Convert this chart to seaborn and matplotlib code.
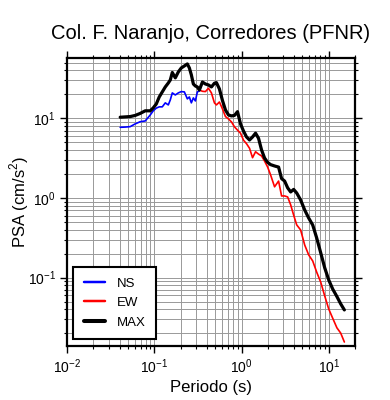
import numpy as np
import pandas as pd
import seaborn as sns
import matplotlib.pyplot as plt
from matplotlib.lines import Line2D

# periods (s) and spectral accelerations (cm/s^2)
periodo = [0.0407, 0.0464, 0.053, 0.0605, 0.069, 0.0788, 0.090, 0.0974, 0.1055, 0.1141,
           0.1236, 0.1338, 0.1449, 0.1527, 0.161, 0.1743, 0.1887, 0.2043, 0.2213, 0.2395,
           0.2525, 0.2662, 0.2807, 0.296, 0.312, 0.329, 0.3565, 0.3857, 0.4177, 0.452,
           0.4894, 0.516, 0.5585, 0.605, 0.655, 0.709, 0.7675, 0.831, 0.900, 0.974,
           1.055, 1.141, 1.236, 1.338, 1.449, 1.568, 1.698, 1.838, 1.99, 2.154,
           2.393, 2.66, 2.88, 3.12, 3.38, 3.66, 3.96, 4.29, 4.76, 5.30,
           5.89, 6.55, 7.28, 8.09, 8.99, 10.0, 11.1, 12.4, 13.7, 15.1]
ns = [7.7, 7.75, 7.85, 8.5, 9.05, 9.25, 11.0, 12.4, 13.4, 13.9,
      13.9, 15.6, 14.7, 17.0, 20.8, 19.6, 20.8, 21.6, 21.4, 17.5,
      18.5, 15.6, 18.0, 16.5, 21.4, 22.0, 28.5, 26.9, 26.2, 24.7,
      27.5, 28.0, 23.3, 16.7, 12.7, 11.0, 10.7, 10.85, 12.1, 8.5,
      6.9, 5.83, 5.34, 5.83, 6.5, 5.6, 4.0, 3.17, 2.8, 2.62,
      2.52, 2.44, 1.75, 1.63, 1.34, 1.19, 1.28, 1.155, 0.944, 0.707,
      0.56, 0.458, 0.314, 0.205, 0.133, 0.0935, 0.072, 0.058, 0.047, 0.0394]
ew = [10.3, 10.4, 10.5, 10.85, 11.5, 12.4, 12.4, 13.5, 15.1, 18.5,
      21.4, 24.7, 27.7, 30.2, 37.5, 32.1, 38.1, 42.8, 45.3, 48.0,
      42.8, 35.0, 26.9, 25.4, 24.7, 22.6, 21.8, 21.6, 23.8, 20.8,
      15.6, 14.7, 16.0, 13.1, 10.5, 9.8, 9.0, 7.8, 7.1, 6.5,
      5.3, 4.8, 4.2, 3.2, 3.8, 3.55, 3.37, 2.9, 2.45, 1.95,
      1.38, 1.63, 1.06, 1.06, 1.03, 0.82, 0.61, 0.46, 0.397, 0.257,
      0.193, 0.162, 0.117, 0.088, 0.059, 0.0404, 0.031, 0.0235, 0.0202, 0.0156]
componentes = ['NS', 'EW', 'MAX']
colores = {'NS': '#0000ff', 'EW': '#ff0000', 'MAX': '#000000'}
grosores = {'NS': 1.2, 'EW': 1.2, 'MAX': 2.3}

maximo = np.maximum(ns, ew)
df = pd.concat([
    pd.DataFrame({'Periodo': periodo, 'PSA': ns, 'comp': 'NS'}),
    pd.DataFrame({'Periodo': periodo, 'PSA': ew, 'comp': 'EW'}),
    pd.DataFrame({'Periodo': periodo, 'PSA': maximo, 'comp': 'MAX'}),
])

sns.set_style('ticks')
plt.rcParams['font.family'] = ['Liberation Sans', 'DejaVu Sans']
plt.rcParams['mathtext.fontset'] = 'custom'
plt.rcParams['mathtext.rm'] = 'Liberation Sans'
plt.rcParams['text.color'] = 'black'
plt.rcParams['axes.labelcolor'] = 'black'

fig = plt.figure(figsize=(3.9, 4.0), dpi=100)
ax = fig.add_axes([0.1718, 0.135, 0.7385, 0.72])

sns.lineplot(data=df, x='Periodo', y='PSA', hue='comp', size='comp',
             hue_order=componentes, palette=colores, sizes=grosores,
             legend=False, ax=ax)
ax.set_xscale('log')
ax.set_yscale('log')
ax.set_xlim(0.01, 20)
ax.set_ylim(0.0139, 57)

ax.grid(True, which='both', color='#999999', linewidth=0.7)
ax.set_axisbelow(True)
for s in ax.spines.values():
    s.set_linewidth(1.6)
    s.set_color('black')
ax.tick_params(which='both', direction='out', top=True, right=True, labelsize=10,
               colors='black', labelcolor='black')
ax.tick_params(which='major', length=5, width=1, pad=3)
ax.tick_params(which='minor', length=2.5, width=0.8)

ax.set_xlabel('Periodo (s)', fontsize=12, labelpad=3)
ax.set_ylabel('PSA (cm/s$^2$)', fontsize=12)
ax.yaxis.set_label_coords(-0.125, 0.5)
ax.set_title('Col. F. Naranjo, Corredores (PFNR)', fontsize=14.5, pad=14, color='black')

handles = [Line2D([], [], color=colores[c], linewidth=grosores[c] + 0.6) for c in componentes]
leg = ax.legend(handles, componentes, loc='lower left', bbox_to_anchor=(0.021, 0.024),
                borderaxespad=0, fancybox=False, framealpha=1, edgecolor='black',
                fontsize=9.5, handlelength=1.6, handletextpad=0.9, labelspacing=0.55,
                borderpad=0.8)
leg.get_frame().set_linewidth(1.5)
leg.set_zorder(5)

fig.savefig('out.png', dpi=100)
